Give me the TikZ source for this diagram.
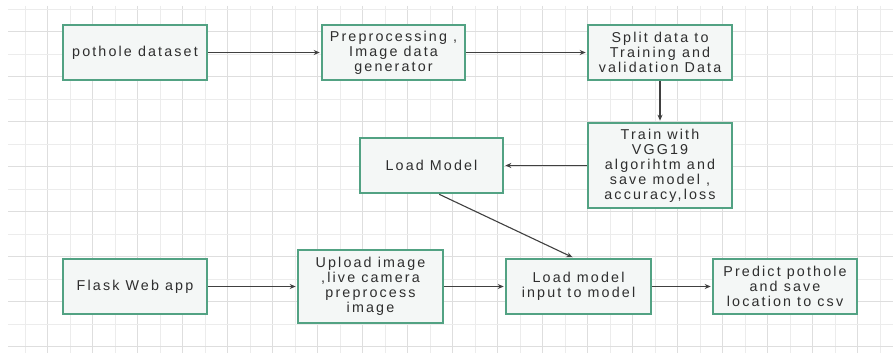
\documentclass[tikz,border=0pt]{standalone}
\usepackage{fontspec}
\setmainfont{Liberation Sans}[LetterSpace=15]
\usetikzlibrary{arrows.meta}
\definecolor{boxedge}{HTML}{52A283}
\definecolor{boxfill}{HTML}{F4F7F6}
\definecolor{gridminor}{HTML}{ECECEC}
\definecolor{gridmajor}{HTML}{DEDEDE}
\definecolor{inkline}{HTML}{404040}
\definecolor{inktext}{HTML}{2E2E2E}
\tikzset{
  stepbox/.style={draw=boxedge, line width=2.6pt, fill=boxfill, rectangle,
    align=center, inner sep=2pt, text=inktext,
    font=\fontsize{14.3pt}{15pt}\selectfont},
  flow/.style={draw=inkline, line width=1.1pt,
    -{Stealth[length=6pt,width=5pt]}, shorten >=1pt}
}
\begin{document}
\begin{tikzpicture}[x=1pt,y=-1pt]
  \useasboundingbox (0,0) rectangle (893,353);
  \fill[white] (0,0) rectangle (893,353);
  % background grid
  \foreach \i in {0,...,39} {
    \pgfmathsetmacro{\gx}{25+22.5*\i}
    \ifodd\i
      \draw[gridmajor, line width=0.8pt] (\gx,6) -- (\gx,353);
    \else
      \draw[gridminor, line width=0.6pt] (\gx,6) -- (\gx,353);
    \fi
  }
  \foreach \j in {0,...,15} {
    \pgfmathsetmacro{\gy}{9+22.5*\j}
    \ifodd\j
      \draw[gridmajor, line width=0.8pt] (8,\gy) -- (893,\gy);
    \else
      \draw[gridminor, line width=0.6pt] (8,\gy) -- (893,\gy);
    \fi
  }

  % process steps
  \node[stepbox, minimum width=144pt, minimum height=55pt] (pot) at (135,52.5) {pothole dataset};
  \node[stepbox, minimum width=143pt, minimum height=55pt] (pre) at (393.5,52.5) {Preprocessing ,\\Image data\\generator};
  \node[stepbox, minimum width=144pt, minimum height=55pt] (split) at (660,52.5) {Split data to\\Training and\\validation Data};
  \node[stepbox, minimum width=144pt, minimum height=85pt] (train) at (660,165.5) {Train with\\VGG19\\algorihtm and\\save model ,\\accuracy,loss};
  \node[stepbox, minimum width=143pt, minimum height=55pt] (loadm) at (431.5,165.5) {Load Model};
  \node[stepbox, minimum width=144pt, minimum height=55pt] (flask) at (135,286.5) {Flask Web app};
  \node[stepbox, minimum width=145pt, minimum height=73pt] (upload) at (370.5,286.5) {Upload image\\,live camera\\preprocess\\image};
  \node[stepbox, minimum width=145pt, minimum height=55pt] (input) at (578.5,286.5) {Load model\\input to model};
  \node[stepbox, minimum width=144pt, minimum height=55pt] (predict) at (785,286.5) {Predict pothole\\and save\\location to csv};

  % connectors
  \draw[flow] (pot) -- (pre);
  \draw[flow] (pre) -- (split);
  \draw[flow] (split) -- (train);
  \draw[flow] (train) -- (loadm);
  \draw[flow] (loadm.-75) -- (input.100);
  \draw[flow] (flask) -- (upload);
  \draw[flow] (upload) -- (input);
  \draw[flow] (input) -- (predict);
\end{tikzpicture}
\end{document}
